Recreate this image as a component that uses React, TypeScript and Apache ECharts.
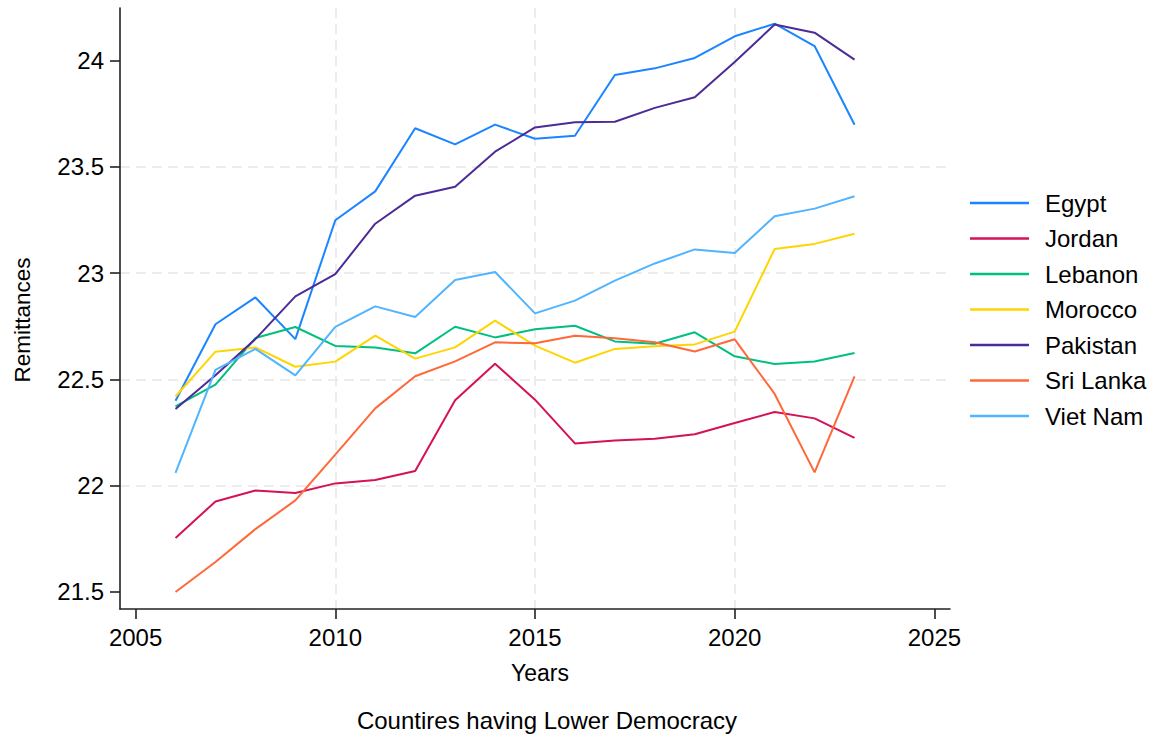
import React, { useEffect, useRef } from "react";
import * as echarts from "echarts";

// Remittances (log scale) by year for countries with lower democracy scores
const years = [2006, 2007, 2008, 2009, 2010, 2011, 2012, 2013, 2014, 2015, 2016, 2017, 2018, 2019, 2020, 2021, 2022, 2023];

const egypt = [22.40, 22.76, 22.886, 22.69, 23.249, 23.385, 23.682, 23.606, 23.699, 23.633, 23.647, 23.933, 23.964, 24.013, 24.115, 24.174, 24.069, 23.699];
const jordan = [21.754, 21.926, 21.978, 21.966, 22.011, 22.027, 22.069, 22.402, 22.574, 22.405, 22.199, 22.213, 22.221, 22.242, 22.295, 22.347, 22.317, 22.225];
const lebanon = [22.373, 22.476, 22.695, 22.747, 22.658, 22.651, 22.623, 22.748, 22.698, 22.736, 22.753, 22.679, 22.668, 22.722, 22.609, 22.573, 22.585, 22.625];
const morocco = [22.42, 22.631, 22.651, 22.56, 22.584, 22.706, 22.598, 22.651, 22.777, 22.659, 22.579, 22.644, 22.656, 22.665, 22.725, 23.114, 23.138, 23.186];
const pakistan = [22.361, 22.52, 22.69, 22.891, 22.996, 23.233, 23.365, 23.407, 23.572, 23.686, 23.71, 23.713, 23.778, 23.828, 23.994, 24.17, 24.132, 24.005];
const sriLanka = [21.5, 21.641, 21.796, 21.931, 22.146, 22.364, 22.515, 22.585, 22.675, 22.67, 22.706, 22.694, 22.675, 22.632, 22.689, 22.432, 22.063, 22.515];
const vietNam = [22.061, 22.545, 22.644, 22.519, 22.748, 22.844, 22.794, 22.968, 23.006, 22.811, 22.871, 22.965, 23.046, 23.112, 23.095, 23.268, 23.304, 23.362];

const countries = ["Egypt", "Jordan", "Lebanon", "Morocco", "Pakistan", "Sri Lanka", "Viet Nam"];
const seriesValues = [egypt, jordan, lebanon, morocco, pakistan, sriLanka, vietNam];
const palette = ["#1a85ff", "#d41159", "#00bf7f", "#ffd400", "#4c2b99", "#ff6838", "#50b4ff"];

const xTicks = [2005, 2010, 2015, 2020, 2025];
const yTicks = [21.5, 22, 22.5, 23, 23.5, 24];

const FONT = "'Liberation Sans', Arial, Helvetica, sans-serif";

export default function App() {
  const ref = useRef<HTMLDivElement>(null);

  useEffect(() => {
    if (!ref.current) return;
    const chart = echarts.init(ref.current, undefined, { renderer: "svg" });

    const gridLine = {
      show: true,
      showMinLine: false,
      showMaxLine: false,
      lineStyle: { color: "#e6e6e6", width: 1.5, type: [10, 6] as any },
    };
    const axisLine = { show: true, onZero: false, lineStyle: { color: "#222", width: 1.6 } };
    const axisTick = { show: true, length: 10, lineStyle: { color: "#222", width: 1.6 } };
    const plain = (v: number) => String(v);

    chart.setOption({
      animation: false,
      color: palette,
      textStyle: { fontFamily: FONT },
      grid: { left: 120, right: 217, top: 8, bottom: 129, containLabel: false },
      xAxis: {
        type: "value",
        min: 2004.61,
        max: 2025.39,
        axisLine,
        axisTick: { ...axisTick, customValues: xTicks },
        axisLabel: {
          customValues: xTicks,
          formatter: plain,
          margin: 16,
          fontSize: 24,
          color: "#000",
          fontFamily: FONT,
        },
        splitLine: gridLine,
      },
      yAxis: {
        type: "value",
        min: 21.42,
        max: 24.248,
        axisLine,
        axisTick: { ...axisTick, customValues: yTicks },
        axisLabel: {
          customValues: yTicks,
          formatter: plain,
          margin: 16,
          fontSize: 24,
          color: "#000",
          fontFamily: FONT,
        },
        splitLine: gridLine,
      },
      legend: {
        orient: "vertical",
        left: 970,
        top: 191,
        padding: 0,
        icon: "rect",
        itemWidth: 59,
        itemHeight: 2.5,
        itemGap: 11.5,
        data: countries,
        textStyle: {
          fontSize: 24,
          lineHeight: 24,
          color: "#000",
          fontFamily: FONT,
          padding: [0, 0, 0, 11],
        },
      },
      graphic: [
        {
          type: "text",
          x: 22,
          y: 320,
          rotation: Math.PI / 2,
          style: {
            text: "Remittances",
            fontSize: 22.5,
            fontFamily: FONT,
            fill: "#000",
            align: "center",
            verticalAlign: "middle",
          },
        },
        {
          type: "text",
          x: 540,
          y: 673,
          style: {
            text: "Years",
            fontSize: 23,
            fontFamily: FONT,
            fill: "#000",
            align: "center",
            verticalAlign: "middle",
          },
        },
        {
          type: "text",
          x: 547,
          y: 720,
          style: {
            text: "Countires having Lower Democracy",
            fontSize: 24,
            fontFamily: FONT,
            fill: "#000",
            align: "center",
            verticalAlign: "middle",
          },
        },
      ],
      series: countries.map((name, i) => ({
        name,
        type: "line",
        symbol: "none",
        lineStyle: { width: 2 },
        data: years.map((yr, j) => [yr, seriesValues[i][j]]),
      })),
    });

    return () => chart.dispose();
  }, []);

  return (
    <div
      ref={ref}
      style={{ position: "fixed", left: 0, top: 0, width: 1167, height: 738, background: "#fff" }}
    />
  );
}
